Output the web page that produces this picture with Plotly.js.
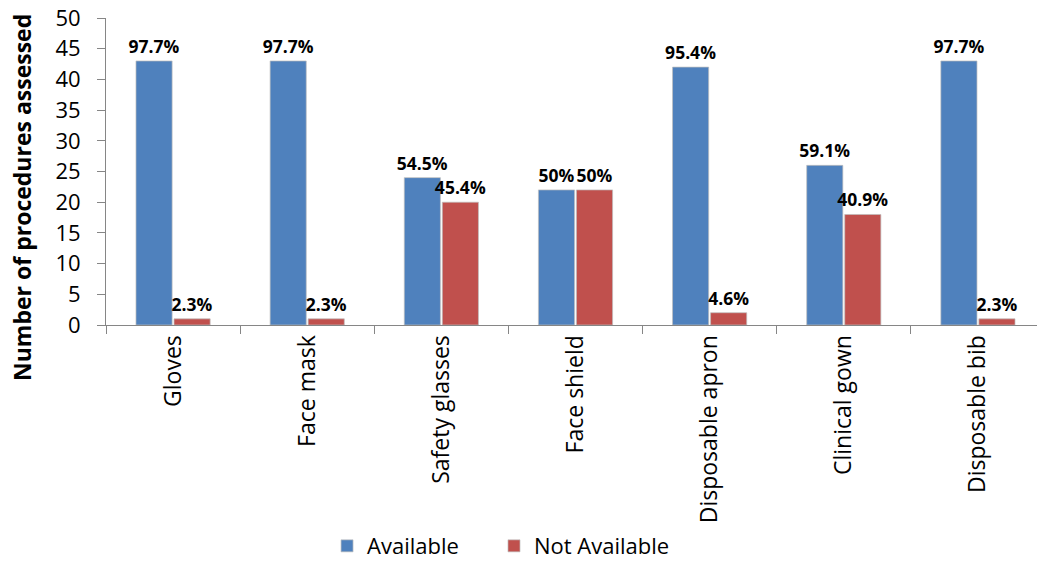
<!DOCTYPE html>
<html>
<head>
<meta charset="utf-8">
<script src="https://cdn.plot.ly/plotly-3.0.1.min.js"></script>
<style>
  html, body { margin: 0; padding: 0; background: #fff; overflow: hidden; }
  #chart { width: 1045px; height: 561px; }
</style>
</head>
<body>
<div id="chart"></div>
<script>
// PPE items checked during each procedure
const categories = ["Gloves", "Face mask", "Safety glasses", "Face shield", "Disposable apron", "Clinical gown", "Disposable bib"];
const availableCounts = [43, 43, 24, 22, 42, 26, 43];
const notAvailableCounts = [1, 1, 20, 22, 2, 18, 1];
const availableLabels = ["97.7%", "97.7%", "54.5%", "50%", "95.4%", "59.1%", "97.7%"];
const notAvailableLabels = ["2.3%", "2.3%", "45.4%", "50%", "4.6%", "40.9%", "2.3%"];
const yTicks = [0, 5, 10, 15, 20, 25, 30, 35, 40, 45, 50];

const FONT = "'Open Sans', 'Noto Sans', sans-serif";
const labelFont = { family: FONT, size: 17.5, color: "#000", weight: "bold" };

const barLine = { color: "rgba(190,190,190,0.7)", width: 1 };

const traces = [
  {
    type: "bar",
    name: "Available",
    legend: "legend",
    x: categories,
    y: availableCounts,
    text: availableLabels,
    textposition: "outside",
    textfont: labelFont,
    constraintext: "none",
    cliponaxis: false,
    marker: { color: "#4F81BD", line: barLine },
    hoverinfo: "x+y+name"
  },
  {
    type: "bar",
    name: "Not Available",
    legend: "legend2",
    x: categories,
    y: notAvailableCounts,
    text: notAvailableLabels,
    textposition: "outside",
    textfont: labelFont,
    constraintext: "none",
    cliponaxis: false,
    marker: { color: "#C0504D", line: barLine },
    hoverinfo: "x+y+name"
  }
];

const axisGrey = "#868686";
const legendFont = { family: FONT, size: 22, color: "#000" };

const layout = {
  width: 1045,
  height: 561,
  margin: { l: 106, r: 0, t: 18, b: 236, autoexpand: false },
  paper_bgcolor: "#fff",
  plot_bgcolor: "#fff",
  font: { family: FONT, size: 22, color: "#000" },
  barmode: "group",
  bargap: 0.433,
  bargroupgap: 0.05,
  showlegend: true,
  legend: {
    orientation: "h",
    x: 0.2354,
    xanchor: "left",
    y: -0.72,
    yanchor: "middle",
    font: legendFont
  },
  legend2: {
    orientation: "h",
    x: 0.4132,
    xanchor: "left",
    y: -0.72,
    yanchor: "middle",
    font: legendFont
  },
  xaxis: {
    type: "category",
    automargin: false,
    showline: true,
    linecolor: axisGrey,
    linewidth: 1,
    ticks: "outside",
    tickson: "boundaries",
    ticklen: 8,
    tickcolor: axisGrey,
    tickangle: -90,
    tickfont: { family: FONT, size: 23, color: "#000" },
    showgrid: false,
    zeroline: false
  },
  yaxis: {
    range: [0, 50],
    automargin: false,
    tickvals: yTicks,
    showline: true,
    linecolor: axisGrey,
    linewidth: 1,
    ticks: "outside",
    ticklen: 8,
    tickcolor: axisGrey,
    ticklabelstandoff: 12,
    tickfont: { family: FONT, size: 22, color: "#000" },
    showgrid: false,
    zeroline: false
  },
  annotations: [
    {
      text: "<b>Number of procedures assessed</b>",
      textangle: -90,
      xref: "paper",
      yref: "paper",
      x: -0.0895,
      y: 0.417,
      xanchor: "center",
      yanchor: "middle",
      showarrow: false,
      font: { family: FONT, size: 23, color: "#000" }
    }
  ]
};

Plotly.newPlot("chart", traces, layout, { displayModeBar: false, staticPlot: true });
</script>
</body>
</html>
